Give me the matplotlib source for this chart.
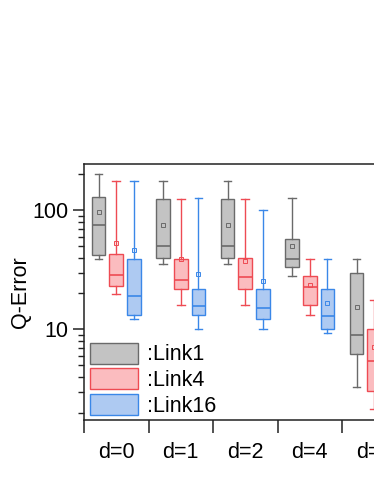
import matplotlib
matplotlib.use("Agg")
import matplotlib.pyplot as plt
from matplotlib.patches import Patch
from matplotlib.ticker import FixedLocator, NullFormatter, LogLocator, FixedFormatter

plt.rcParams['font.family'] = ['Liberation Sans', 'DejaVu Sans']

groups = ["d=0", "d=1", "d=2", "d=4", "d=8"]
series = ["Link1", "Link4", "Link16"]

# per-series stats, one value per group
link1_whislo = [39, 35.4, 35.4, 28, 3.26]
link1_q1     = [42.4, 39.5, 39.5, 33.6, 6.2]
link1_med    = [75, 50, 50, 39, 9.0]
link1_q3     = [130, 124, 124, 57, 29.6]
link1_whishi = [200, 175, 175, 128, 39]
link1_mean   = [96, 75.7, 75.7, 50, 15.5]

link4_whislo = [19.8, 16, 16, 13.1, 2.13]
link4_q1     = [23, 22, 22, 16, 3.03]
link4_med    = [28.5, 26, 27.5, 22.5, 5.4]
link4_q3     = [43, 39, 39.5, 28, 10]
link4_whishi = [175, 125, 124, 39, 17.6]
link4_mean   = [53, 38.7, 37.5, 23.7, 7.1]

link16_whislo = [12.1, 10, 10, 9.4, 1.9]
link16_q1     = [13.1, 13.1, 12.1, 10, 2.6]
link16_med    = [19, 15.6, 15, 12.9, 4.5]
link16_q3     = [39, 22, 22, 21.8, 8.5]
link16_whishi = [175, 128, 100.7, 39, 15]
link16_mean   = [46, 29.3, 25.6, 16.6, 6.0]

stats_by_series = [
    (link1_whislo, link1_q1, link1_med, link1_q3, link1_whishi, link1_mean),
    (link4_whislo, link4_q1, link4_med, link4_q3, link4_whishi, link4_mean),
    (link16_whislo, link16_q1, link16_med, link16_q3, link16_whishi, link16_mean),
]

face_colors = ["#c3c3c3", "#fbbcbf", "#aecaf2"]
edge_colors = ["#6a6a6a", "#ee4b53", "#3a87e8"]
offsets = [-0.274, 0.0, 0.274]
FS = 15.5

W, H = 374, 484
fig = plt.figure(figsize=(W / 100, H / 100), dpi=100)
ax = fig.add_axes([84 / W, 64 / H, 322.5 / W, 256 / H])

for si, (wl, q1, md, q3, wh, mn) in enumerate(stats_by_series):
    stats = []
    for gi in range(len(groups)):
        stats.append(dict(whislo=wl[gi], q1=q1[gi], med=md[gi], q3=q3[gi],
                          whishi=wh[gi], mean=mn[gi], fliers=[]))
    pos = [gi + offsets[si] for gi in range(len(groups))]
    ec = edge_colors[si]
    ax.bxp(stats, positions=pos, widths=0.21, capwidths=0.12,
           showmeans=True, patch_artist=True, manage_ticks=False,
           boxprops=dict(facecolor=face_colors[si], edgecolor=ec, linewidth=1.0),
           whiskerprops=dict(color=ec, linewidth=1.0),
           capprops=dict(color=ec, linewidth=1.0),
           medianprops=dict(color=ec, linewidth=1.2),
           meanprops=dict(marker='s', markersize=3.2, markerfacecolor='none',
                          markeredgecolor=ec, markeredgewidth=0.7))

ax.set_yscale('log')
ax.set_ylim(1.73, 245)
ax.set_xlim(-0.5, len(groups) - 0.5)

ax.yaxis.set_major_locator(FixedLocator([10, 100]))
ax.yaxis.set_major_formatter(FixedFormatter(["10", "100"]))
ax.yaxis.set_minor_locator(LogLocator(base=10, subs=range(2, 10)))
ax.yaxis.set_minor_formatter(NullFormatter())
ax.tick_params(axis='y', which='major', direction='out', length=8, width=1.1,
               labelsize=FS, pad=3, colors='#222222', labelcolor='black')
ax.tick_params(axis='y', which='minor', direction='out', length=4, width=1.0,
               colors='#222222')

ax.xaxis.set_major_locator(FixedLocator([i - 0.5 for i in range(len(groups) + 1)]))
ax.xaxis.set_major_formatter(NullFormatter())
ax.xaxis.set_minor_locator(FixedLocator(list(range(len(groups)))))
ax.xaxis.set_minor_formatter(FixedFormatter(groups))
ax.tick_params(axis='x', which='major', direction='out', length=9, width=1.1,
               colors='#222222')
ax.tick_params(axis='x', which='minor', length=0, labelsize=FS, pad=16)

for s in ['left', 'bottom', 'top', 'right']:
    ax.spines[s].set_linewidth(1.1)
    ax.spines[s].set_color('#222222')

ax.set_ylabel("Q-Error", fontsize=FS, labelpad=1.5)

handles = [Patch(facecolor=face_colors[i], edgecolor=edge_colors[i], linewidth=1.0)
           for i in range(3)]
ax.legend(handles, [":" + s for s in series], loc='lower left',
          bbox_to_anchor=(6 / 322.5, 3 / 256), frameon=False, fontsize=FS,
          handlelength=2.23, handleheight=1.12, handletextpad=0.4,
          labelspacing=0.14, borderpad=0, borderaxespad=0)

fig.savefig("out.png", dpi=100)
